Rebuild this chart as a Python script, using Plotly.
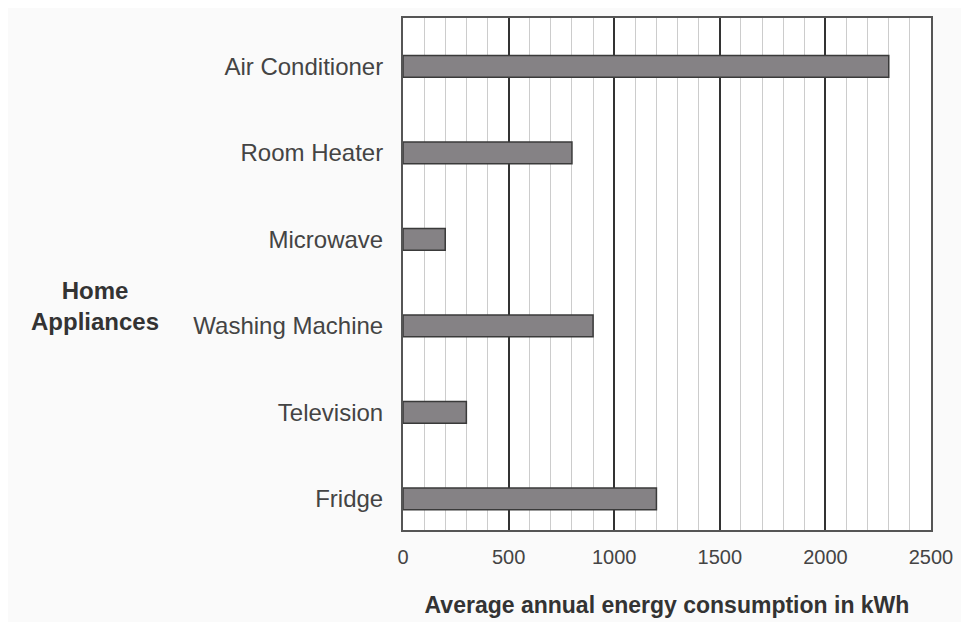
import plotly.graph_objects as go

appliances = ["Fridge", "Television", "Washing Machine", "Microwave", "Room Heater", "Air Conditioner"]
consumption_kwh = [1200, 300, 900, 200, 800, 2300]
x_ticks = [0, 500, 1000, 1500, 2000, 2500]

fig = go.Figure()
fig.add_trace(go.Bar(
    y=appliances, x=consumption_kwh, orientation="h",
    width=0.25,
    marker=dict(color="#858285", line=dict(color="#3a3a3a", width=1.5)),
))

fig.update_layout(
    width=953, height=614,
    margin=dict(l=395, r=29, t=8, b=91),
    paper_bgcolor="#fafafa", plot_bgcolor="#ffffff",
    showlegend=False,
    font=dict(family="Liberation Sans, Arial, sans-serif", color="#333333"),
    xaxis=dict(
        range=[0, 2500], tickvals=x_ticks, ticktext=[str(v) for v in x_ticks],
        showgrid=True, gridcolor="#333333", gridwidth=2,
        minor=dict(dtick=100, showgrid=True, gridcolor="#cccccc", gridwidth=1),
        showline=True, linecolor="#555555", linewidth=2, mirror=True,
        zeroline=False, ticks="", ticklabelstandoff=8,
        tickfont=dict(size=20, color="#444444"),
        title=dict(text="<b>Average annual energy consumption in kWh</b>",
                   font=dict(size=23, color="#333333"), standoff=30),
    ),
    yaxis=dict(
        type="category", categoryorder="array", categoryarray=appliances,
        range=[-0.36, 5.56],
        showgrid=False, showline=True, linecolor="#555555", linewidth=2, mirror=True,
        ticks="", ticklabelstandoff=13,
        tickfont=dict(size=24, color="#444444"),
    ),
)

fig.add_annotation(
    text="<b>Home<br>Appliances</b>", xref="paper", yref="paper",
    x=-0.584, y=0.437, xanchor="center", yanchor="middle", showarrow=False,
    font=dict(size=24, color="#333333"), align="center",
)

fig.write_html("out.html")
